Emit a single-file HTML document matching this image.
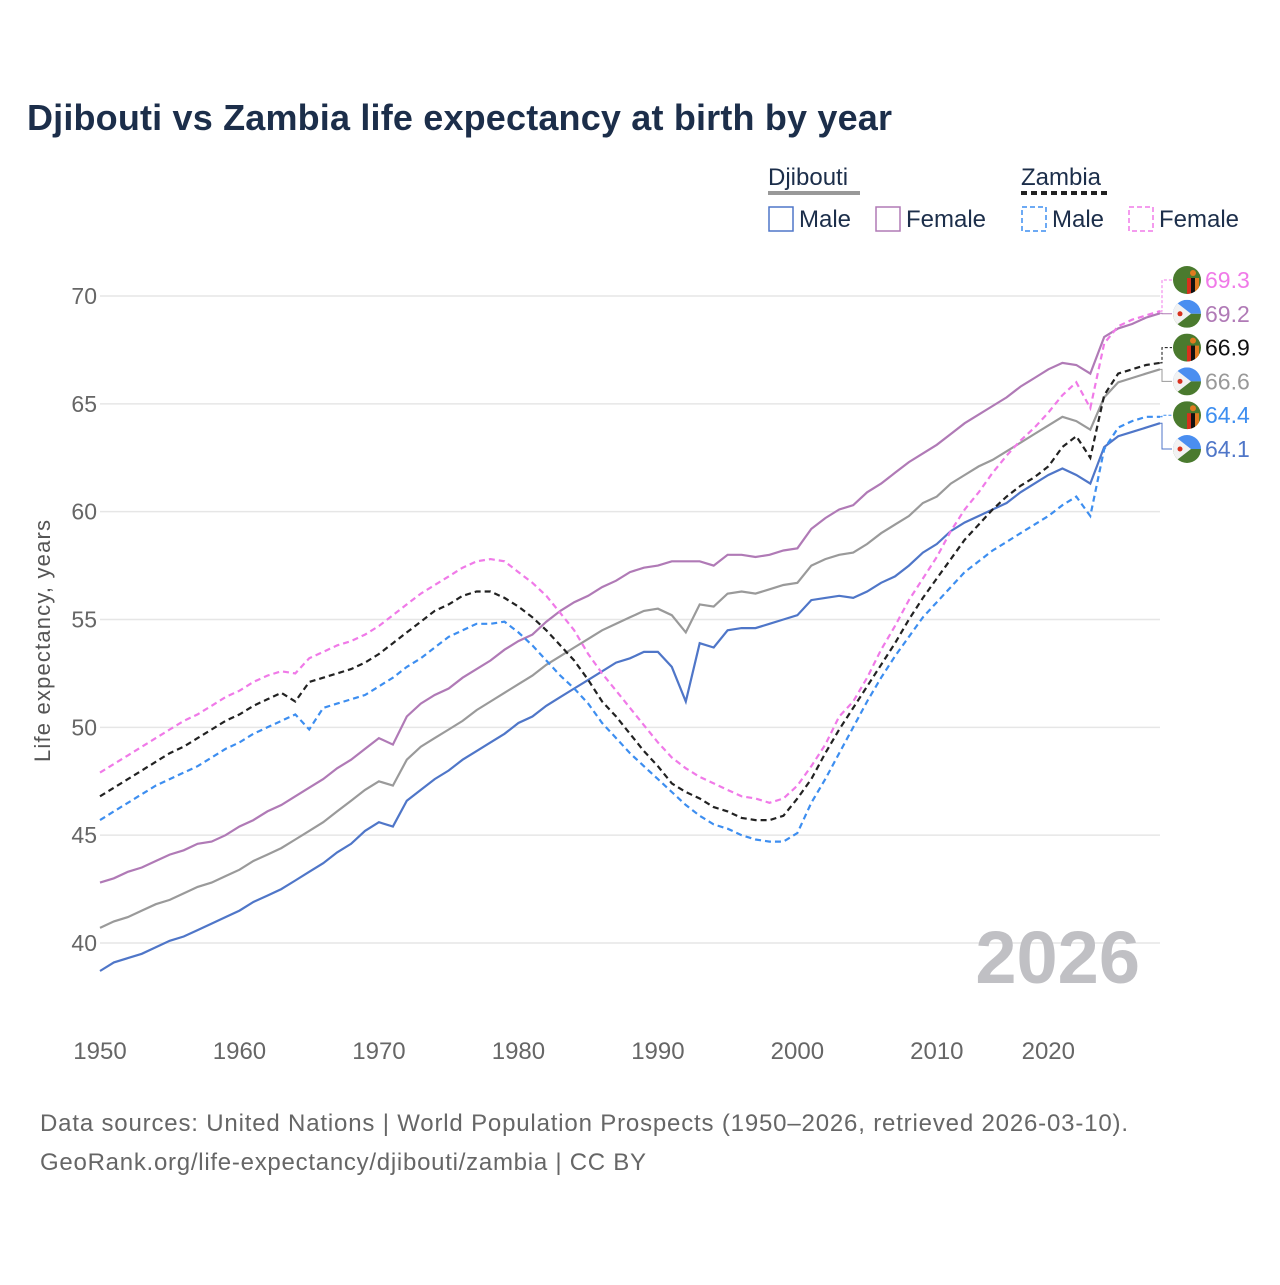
<!DOCTYPE html>
<html><head><meta charset="utf-8">
<style>
body{margin:0;background:#fff;font-family:"Liberation Sans",sans-serif}
svg text{font-family:"Liberation Sans",sans-serif}
</style></head>
<body>
<svg id="chart" width="1280" height="1280" viewBox="0 0 1280 1280" xmlns="http://www.w3.org/2000/svg">
<defs>
<clipPath id="cc"><circle cx="0" cy="0" r="14"/></clipPath>
</defs>
<rect width="1280" height="1280" fill="#fff"/>
<text x="27" y="130" font-size="36" font-weight="bold" fill="#1c2e4a" textLength="865" lengthAdjust="spacing">Djibouti vs Zambia life expectancy at birth by year</text>
<g font-size="24" fill="#1c2e4a">
<text x="768" y="185">Djibouti</text>
<line x1="768" y1="193" x2="860" y2="193" stroke="#999" stroke-width="4"/>
<text x="1021" y="185">Zambia</text>
<line x1="1021" y1="193" x2="1107" y2="193" stroke="#222" stroke-width="4" stroke-dasharray="6,4"/>
<g><rect x="769" y="207" width="24" height="24" fill="none" stroke="#4f76c8" stroke-width="1.5"/><text x="799" y="227">Male</text></g>
<g><rect x="876" y="207" width="24" height="24" fill="none" stroke="#b07ab6" stroke-width="1.5"/><text x="906" y="227">Female</text></g>
<g><rect x="1022" y="207" width="24" height="24" fill="none" stroke="#3d8ef0" stroke-width="1.5" stroke-dasharray="5,3"/><text x="1052" y="227">Male</text></g>
<g><rect x="1129" y="207" width="24" height="24" fill="none" stroke="#f07ae8" stroke-width="1.5" stroke-dasharray="5,3"/><text x="1159" y="227">Female</text></g>
</g>
<g id="grid"></g>
<g id="axes"></g>
<text x="1140" y="983" text-anchor="end" font-size="74" font-weight="bold" fill="#c0c0c4">2026</text>
<g id="series"></g>
<g id="labels"></g>
<text transform="translate(50,641) rotate(-90)" text-anchor="middle" font-size="22" fill="#555" textLength="242" lengthAdjust="spacing">Life expectancy, years</text>
<text x="40" y="1131" font-size="24" fill="#666" textLength="1088" lengthAdjust="spacing">Data sources: United Nations | World Population Prospects (1950–2026, retrieved 2026-03-10).</text>
<text x="40" y="1170" font-size="24" fill="#666" textLength="606" lengthAdjust="spacing">GeoRank.org/life-expectancy/djibouti/zambia | CC BY</text>
</svg>
<script>
const startYear = 1950;
const yTicks = [40,45,50,55,60,65,70];
const xTicks = [1950,1960,1970,1980,1990,2000,2010,2020];
const djiMale = [38.7,39.1,39.3,39.5,39.8,40.1,40.3,40.6,40.9,41.2,41.5,41.9,42.2,42.5,42.9,43.3,43.7,44.2,44.6,45.2,45.6,45.4,46.6,47.1,47.6,48.0,48.5,48.9,49.3,49.7,50.2,50.5,51.0,51.4,51.8,52.2,52.6,53.0,53.2,53.5,53.5,52.8,51.2,53.9,53.7,54.5,54.6,54.6,54.8,55.0,55.2,55.9,56.0,56.1,56.0,56.3,56.7,57.0,57.5,58.1,58.5,59.1,59.5,59.8,60.1,60.4,60.9,61.3,61.7,62.0,61.7,61.3,63.0,63.5,63.7,63.9,64.1];
const djiTotal = [40.7,41.0,41.2,41.5,41.8,42.0,42.3,42.6,42.8,43.1,43.4,43.8,44.1,44.4,44.8,45.2,45.6,46.1,46.6,47.1,47.5,47.3,48.5,49.1,49.5,49.9,50.3,50.8,51.2,51.6,52.0,52.4,52.9,53.3,53.7,54.1,54.5,54.8,55.1,55.4,55.5,55.2,54.4,55.7,55.6,56.2,56.3,56.2,56.4,56.6,56.7,57.5,57.8,58.0,58.1,58.5,59.0,59.4,59.8,60.4,60.7,61.3,61.7,62.1,62.4,62.8,63.2,63.6,64.0,64.4,64.2,63.8,65.3,66.0,66.2,66.4,66.6];
const djiFemale = [42.8,43.0,43.3,43.5,43.8,44.1,44.3,44.6,44.7,45.0,45.4,45.7,46.1,46.4,46.8,47.2,47.6,48.1,48.5,49.0,49.5,49.2,50.5,51.1,51.5,51.8,52.3,52.7,53.1,53.6,54.0,54.3,54.9,55.4,55.8,56.1,56.5,56.8,57.2,57.4,57.5,57.7,57.7,57.7,57.5,58.0,58.0,57.9,58.0,58.2,58.3,59.2,59.7,60.1,60.3,60.9,61.3,61.8,62.3,62.7,63.1,63.6,64.1,64.5,64.9,65.3,65.8,66.2,66.6,66.9,66.8,66.4,68.1,68.5,68.7,69.0,69.2];
const zamMale = [45.7,46.1,46.5,46.9,47.3,47.6,47.9,48.2,48.6,49.0,49.3,49.7,50.0,50.3,50.6,49.9,50.9,51.1,51.3,51.5,51.9,52.3,52.8,53.2,53.7,54.2,54.5,54.8,54.8,54.9,54.4,53.8,53.1,52.4,51.8,51.1,50.2,49.5,48.8,48.2,47.6,47.0,46.4,45.9,45.5,45.3,45.0,44.8,44.7,44.7,45.1,46.5,47.6,48.8,50.0,51.2,52.3,53.3,54.2,55.1,55.8,56.5,57.2,57.7,58.2,58.6,59.0,59.4,59.8,60.3,60.7,59.8,62.9,63.9,64.2,64.4,64.4];
const zamTotal = [46.8,47.2,47.6,48.0,48.4,48.8,49.1,49.5,49.9,50.3,50.6,51.0,51.3,51.6,51.2,52.1,52.3,52.5,52.7,53.0,53.4,53.9,54.4,54.9,55.4,55.7,56.1,56.3,56.3,56.0,55.6,55.1,54.5,53.8,53.1,52.2,51.2,50.5,49.7,48.9,48.2,47.4,47.0,46.7,46.3,46.1,45.8,45.7,45.7,45.9,46.7,47.6,48.8,49.9,50.9,51.9,52.9,53.9,55.0,56.0,56.9,57.8,58.7,59.4,60.1,60.7,61.2,61.6,62.1,63.0,63.5,62.5,65.4,66.4,66.6,66.8,66.9];
const zamFemale = [47.9,48.3,48.7,49.1,49.5,49.9,50.3,50.6,51.0,51.4,51.7,52.1,52.4,52.6,52.5,53.2,53.5,53.8,54.0,54.3,54.7,55.2,55.7,56.2,56.6,57.0,57.4,57.7,57.8,57.7,57.2,56.7,56.1,55.3,54.5,53.4,52.5,51.7,50.9,50.1,49.3,48.6,48.1,47.7,47.4,47.1,46.8,46.7,46.5,46.7,47.3,48.2,49.2,50.5,51.2,52.3,53.6,54.7,55.9,56.9,57.9,59.1,60.1,60.9,61.8,62.6,63.3,63.9,64.6,65.4,66.0,64.8,67.8,68.6,68.9,69.1,69.3];

const NS='http://www.w3.org/2000/svg';
function xs(year){return 100+(year-1950)*(1060/76);}
function ys(v){return 296+(70-v)*(647/30);}
function mk(tag,attrs,parent){const e=document.createElementNS(NS,tag);for(const k in attrs){if(attrs[k]!==null)e.setAttribute(k,attrs[k]);}parent.appendChild(e);return e;}
const grid=document.getElementById('grid'),axes=document.getElementById('axes'),ser=document.getElementById('series'),lab=document.getElementById('labels');
yTicks.forEach(t=>{
  const l=mk('line',{x1:100,x2:1160,y1:ys(t),y2:ys(t),stroke:'#e6e6e6','stroke-width':1.5},grid);
  
  
  const tx=mk('text',{x:97,y:ys(t)+8,'text-anchor':'end','font-size':23,fill:'#666'},axes);
  tx.textContent=t;
  
  
});
xTicks.forEach(t=>{
  let x=xs(t); if(t===2020) x-=28;
  const tx=mk('text',{x:x,y:1059,'text-anchor':'middle','font-size':24,fill:'#666'},axes);
  tx.textContent=t;
  
  
});
const defs=[
 {d:djiTotal,c:'#9a9a9a',dash:null,n:'djibouti-total'},
 {d:djiMale,c:'#4f76c8',dash:null,n:'djibouti-male'},
 {d:djiFemale,c:'#b07ab6',dash:null,n:'djibouti-female'},
 {d:zamMale,c:'#3d8ef0',dash:'6,4',n:'zambia-male'},
 {d:zamFemale,c:'#f07ae8',dash:'6,4',n:'zambia-female'},
 {d:zamTotal,c:'#222',dash:'6,4',n:'zambia-total'}];
defs.forEach(s=>{
  const pts=s.d.map((v,i)=>xs(startYear+i).toFixed(1)+','+ys(v).toFixed(1)).join(' ');
  const a={points:pts,fill:'none',stroke:s.c,'stroke-width':2.2};
  if(s.dash)a['stroke-dasharray']=s.dash;
  const p=mk('polyline',a,ser);
  
  
});
const ends=[
 {d:zamFemale,c:'#f07ae8',z:true,n:'zambia-female'},
 {d:djiFemale,c:'#b07ab6',z:false,n:'djibouti-female'},
 {d:zamTotal,c:'#111',z:true,n:'zambia-total'},
 {d:djiTotal,c:'#999',z:false,n:'djibouti-total'},
 {d:zamMale,c:'#3d8ef0',z:true,n:'zambia-male'},
 {d:djiMale,c:'#4f76c8',z:false,n:'djibouti-male'}];
ends.forEach((e,i)=>{
  const ly=280+i*33.8, v=e.d[e.d.length-1], ey=ys(v);
  const con=mk('polyline',{points:`1160,${ey} 1162,${ey} 1162,${ly} 1172,${ly}`,fill:'none',stroke:e.c,'stroke-width':1,'stroke-dasharray':e.z?'3,2':null},lab);
  
  
  const g=mk('g',{transform:`translate(1187,${ly})`},lab);
  
  
  const gg=mk('g',{'clip-path':'url(#cc)'},g);
  if(e.z){
    mk('rect',{x:-14,y:-14,width:28,height:28,fill:'#4a7a2e'},gg);
    mk('rect',{x:0,y:-2,width:4,height:16,fill:'#d8301c'},gg);
    mk('rect',{x:4,y:-2,width:4,height:16,fill:'#111'},gg);
    mk('rect',{x:8,y:-2,width:4,height:16,fill:'#e07a20'},gg);
    mk('circle',{cx:6,cy:-7,r:3,fill:'#e07a20'},gg);
  }else{
    mk('rect',{x:-14,y:-14,width:28,height:14,fill:'#4a8ef0'},gg);
    mk('rect',{x:-14,y:0,width:28,height:14,fill:'#4a7a2e'},gg);
    mk('polygon',{points:'-14,-14 4,0 -14,14',fill:'#f2f2f2'},gg);
    mk('circle',{cx:-7,cy:0,r:2.5,fill:'#d8301c'},gg);
  }
  const t=mk('text',{x:1205,y:ly+8,'font-size':23,fill:e.c},lab);
  t.textContent=v.toFixed(1);
  
  
});
</script>
</body></html>
